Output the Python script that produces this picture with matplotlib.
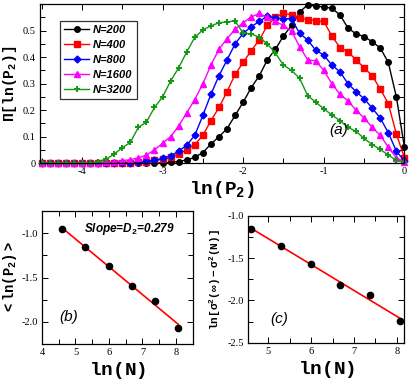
import numpy as np
import matplotlib
matplotlib.use("Agg")
import matplotlib.pyplot as plt
from matplotlib.ticker import MultipleLocator

plt.rcParams['axes.unicode_minus'] = False
plt.rcParams['mathtext.fontset'] = 'custom'
plt.rcParams['mathtext.rm'] = 'Liberation Mono:bold'
plt.rcParams['mathtext.it'] = 'Liberation Sans:italic:bold'
plt.rcParams['mathtext.bf'] = 'Liberation Mono:bold'

# panel (a): distribution of ln(P2)
lnP2 = [-4.5, -4.4, -4.3, -4.2, -4.1, -4.0, -3.9, -3.8, -3.7, -3.6, -3.5, -3.4,
        -3.3, -3.2, -3.1, -3.0, -2.9, -2.8, -2.7, -2.6, -2.5, -2.4, -2.3, -2.2,
        -2.1, -2.0, -1.9, -1.8, -1.7, -1.6, -1.5, -1.4, -1.3, -1.2, -1.1, -1.0,
        -0.9, -0.8, -0.7, -0.6, -0.5, -0.4, -0.3, -0.2, -0.1, 0.0]
n200 = [0, 0, 0, 0, 0, 0, 0, 0, 0, 0, 0, 0, 0, 0, 0,
        0.001, 0.003, 0.006, 0.012, 0.022, 0.04, 0.072, 0.1, 0.13, 0.18, 0.23,
        0.285, 0.33, 0.39, 0.43, 0.48, 0.52, 0.57, 0.598, 0.592, 0.59, 0.584,
        0.56, 0.51, 0.488, 0.478, 0.458, 0.435, 0.38, 0.25, 0.06]
n400 = [0, 0, 0, 0, 0, 0, 0, 0, 0, 0, 0, 0,
        0.003, 0.006, 0.01, 0.014, 0.022, 0.035, 0.05, 0.07, 0.105, 0.16, 0.21,
        0.27, 0.335, 0.38, 0.425, 0.465, 0.52, 0.55, 0.565, 0.56, 0.548, 0.542,
        0.538, 0.535, 0.48, 0.436, 0.42, 0.39, 0.36, 0.33, 0.28, 0.225, 0.11, 0.02]
n800 = [0, 0, 0, 0, 0, 0, 0, 0, 0, 0, 0,
        0.002, 0.004, 0.007, 0.011, 0.018, 0.028, 0.045, 0.068, 0.105, 0.18,
        0.26, 0.33, 0.39, 0.45, 0.49, 0.515, 0.535, 0.555, 0.548, 0.546, 0.545,
        0.49, 0.465, 0.426, 0.408, 0.37, 0.345, 0.30, 0.27, 0.243, 0.208, 0.17,
        0.115, 0.045, 0.008]
n1600 = [0, 0, 0, 0, 0, 0,
         0.001, 0.002, 0.003, 0.005, 0.009, 0.013, 0.02, 0.03, 0.05, 0.075, 0.1,
         0.14, 0.19, 0.24, 0.3, 0.37, 0.43, 0.47, 0.505, 0.53, 0.552, 0.565,
         0.55, 0.535, 0.52, 0.498, 0.44, 0.39, 0.386, 0.35, 0.30, 0.26, 0.235,
         0.2, 0.17, 0.135, 0.105, 0.06, 0.02, 0.004]
n3200 = [0, 0, 0, 0, 0, 0,
         0.001, 0.006, 0.015, 0.034, 0.058, 0.078, 0.135, 0.155, 0.21, 0.25,
         0.31, 0.36, 0.42, 0.475, 0.503, 0.518, 0.53, 0.533, 0.537, 0.49, 0.488,
         0.475, 0.45, 0.415, 0.37, 0.35, 0.32, 0.255, 0.23, 0.205, 0.182, 0.16,
         0.135, 0.12, 0.093, 0.07, 0.052, 0.03, 0.011, 0.003]

series = [("N=200", n200, 'black', 'o'),
          ("N=400", n400, '#ff0000', 's'),
          ("N=800", n800, '#0000ff', 'D'),
          ("N=1600", n1600, '#ff00ff', '^'),
          ("N=3200", n3200, '#119911', '+')]

# panels (b), (c)
lnN = [4.605, 5.298, 5.991, 6.685, 7.378, 8.071]
mean_lnP2 = [-0.955, -1.16, -1.365, -1.60, -1.76, -2.07]
ln_dsig = [-1.16, -1.354, -1.57, -1.82, -1.94, -2.24]

serif = 'Liberation Serif'


def style(ax, xmaj, xmin, ymaj, ymin):
    ax.xaxis.set_major_locator(MultipleLocator(xmaj))
    ax.xaxis.set_minor_locator(MultipleLocator(xmin))
    ax.yaxis.set_major_locator(MultipleLocator(ymaj))
    ax.yaxis.set_minor_locator(MultipleLocator(ymin))
    ax.tick_params(which='both', direction='in', top=True, right=True,
                   labelsize=7.5, pad=3)
    ax.tick_params(which='major', length=4, width=0.7)
    ax.tick_params(which='minor', length=3.5, width=0.7)
    for lab in ax.get_xticklabels() + ax.get_yticklabels():
        lab.set_family(serif)
    for sp in ax.spines.values():
        sp.set_linewidth(0.9)


fig = plt.figure(figsize=(4.09, 3.82), dpi=100)

ax = fig.add_axes([0.0978, 0.573, 0.891, 0.416])
for name, ys, col, mk in series:
    if mk == '+':
        ax.plot(lnP2, ys, color=col, marker=mk, ms=5, mew=1.4, lw=1.0,
                label=name, clip_on=False)
    else:
        ax.plot(lnP2, ys, color=col, marker=mk, ms=4 if mk != 'D' else 3.5,
                lw=1.0, label=name, clip_on=False)
ax.set_xlim(-4.52, 0)
ax.set_ylim(0, 0.6)
style(ax, 1, 0.5, 0.1, 0.05)
ax.set_yticks([0, 0.1, 0.2, 0.3, 0.4, 0.5])
ax.set_yticklabels(['0', '0.1', '0.2', '0.3', '0.4', '0.5'], family=serif)
ax.set_xticks([-4, -3, -2, -1, 0])
ax.set_xticklabels(['-4', '-3', '-2', '-1', '0'], family=serif)
ax.set_xlabel(r'$\mathrm{ln(P_2)}$', fontsize=14, labelpad=2)
ax.set_ylabel(r'$\mathrm{\Pi[ln(P_2)]}$', fontsize=10.5, labelpad=3)
leg = ax.legend(loc='upper left', bbox_to_anchor=(0.05, 0.91), frameon=True,
                fancybox=False, edgecolor='black', handlelength=2.2,
                handletextpad=0.4, labelspacing=0.45, borderpad=0.35,
                borderaxespad=0.2,
                prop={'family': 'Liberation Sans', 'style': 'italic',
                      'weight': 'bold', 'size': 8})
leg.get_frame().set_linewidth(0.9)
ax.text(0.82, 0.21, '(a)', transform=ax.transAxes, fontsize=11,
        style='italic', family='Liberation Sans', ha='center', va='center')

# (b)
bx = fig.add_axes([0.1027, 0.0995, 0.3685, 0.348])
pb = np.polyfit(lnN, mean_lnP2, 1)
xb = np.array([lnN[0], lnN[-1]])
bx.plot(xb, np.polyval(pb, xb), color='#ff0000', lw=1.2)
bx.plot(lnN, mean_lnP2, 'o', color='black', ms=4.5)
bx.set_xlim(4, 8.5)
bx.set_ylim(-2.25, -0.75)
style(bx, 1, 0.5, 0.5, 0.25)
bx.set_xlabel(r'$\mathrm{ln(N)}$', fontsize=14, labelpad=2)
bx.set_ylabel(r'$\mathrm{<ln(P_2)>}$', fontsize=10, labelpad=2)
bx.text(0.58, 0.865, r'Slope=D$_{\mathit{2}}$=0.279', transform=bx.transAxes,
        fontsize=8.5, style='italic', weight='bold', family='Liberation Sans',
        ha='center', va='center')
bx.text(0.175, 0.2, '(b)', transform=bx.transAxes, fontsize=11,
        style='italic', family='Liberation Sans', ha='center', va='center')

# (c)
cx = fig.add_axes([0.607, 0.1029, 0.3807, 0.3325])
cx.set_xlim(4.53, 8.17)
cx.set_ylim(-2.5, -1)
pc = np.polyfit(lnN, ln_dsig, 1)
xc = np.array(cx.get_xlim())
cx.plot(xc, np.polyval(pc, xc), color='#ff0000', lw=1.2)
cx.plot(lnN, ln_dsig, 'o', color='black', ms=4.5)
style(cx, 1, 0.5, 0.5, 0.25)
cx.set_xlabel(r'$\mathrm{ln(N)}$', fontsize=14, labelpad=2)
cx.set_ylabel(r'$\mathrm{ln[\sigma^2(\infty)-\sigma^2(N)]}$', fontsize=8,
              labelpad=3)
cx.text(0.2, 0.19, '(c)', transform=cx.transAxes, fontsize=11,
        style='italic', family='Liberation Sans', ha='center', va='center')

fig.savefig('out.png', dpi=100)
